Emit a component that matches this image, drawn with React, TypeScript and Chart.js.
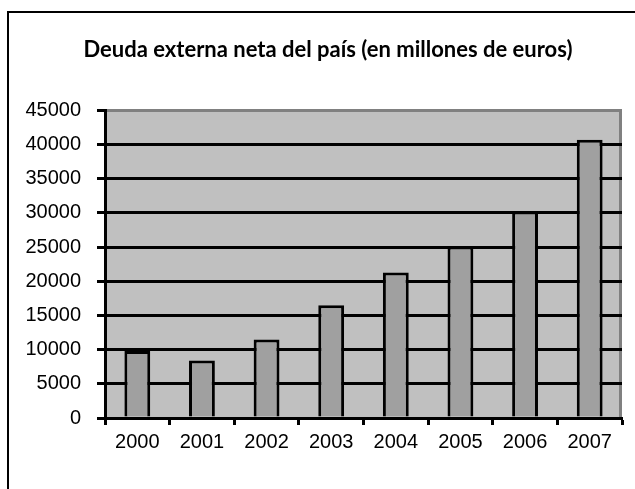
import React, { useEffect, useRef } from "react";
import { Chart, registerables } from "chart.js";

Chart.register(...registerables);

const TITLE = "Deuda externa neta del país (en millones de euros)";
const YEARS = ["2000", "2001", "2002", "2003", "2004", "2005", "2006", "2007"];
const DEBT = [9800, 8400, 11500, 16500, 21300, 25100, 30200, 40700];
const Y_MIN = 0;
const Y_MAX = 45000;
const Y_STEP = 5000;
const TITLE_FONT = "bold 22px Lato";

const plotBg = {
  id: "plotBg",
  beforeDraw(chart: any) {
    const { ctx, chartArea: a } = chart;
    ctx.save();
    ctx.fillStyle = "#c0c0c0";
    ctx.fillRect(a.left, a.top, a.right - a.left, a.bottom - a.top);
    ctx.strokeStyle = "#808080";
    ctx.lineWidth = 3;
    ctx.beginPath();
    ctx.moveTo(a.right - 1.5, a.top);
    ctx.lineTo(a.right - 1.5, a.bottom);
    ctx.stroke();
    ctx.restore();
  },
  afterDraw(chart: any) {
    const t = chart.titleBlock;
    if (!t) return;
    const { ctx } = chart;
    ctx.save();
    ctx.font = TITLE_FONT;
    ctx.fillStyle = "#000";
    ctx.textAlign = "center";
    ctx.textBaseline = "middle";
    ctx.fillText(TITLE, 328, t.top + 37 + 13.2);
    ctx.restore();
  },
};

export default function App() {
  const ref = useRef<HTMLCanvasElement>(null);
  useEffect(() => {
    const chart = new Chart(ref.current!, {
      type: "bar",
      data: {
        labels: YEARS,
        datasets: [
          {
            data: DEBT,
            backgroundColor: "#a0a0a0",
            borderColor: "#000000",
            borderWidth: 3,
            barPercentage: 0.4,
            categoryPercentage: 1,
          },
        ],
      },
      options: {
        animation: false,
        responsive: false,
        devicePixelRatio: 1,
        layout: { padding: { left: 0, right: 13, top: 0, bottom: 0 } },
        plugins: {
          legend: { display: false },
          tooltip: { enabled: false },
          title: {
            display: true,
            text: TITLE,
            color: "rgba(0,0,0,0)",
            font: { family: "Lato", weight: "bold", size: 22 },
            padding: { top: 37, bottom: 47 },
          },
        },
        scales: {
          x: {
            afterFit: (s: any) => {
              s.height = 71;
            },
            grid: {
              display: true,
              drawOnChartArea: false,
              offset: true,
              tickLength: 7,
              tickWidth: 3,
              color: "#000",
              tickColor: "#000",
            },
            border: { display: true, color: "#000", width: 3 },
            ticks: {
              color: "#000",
              font: { family: "Liberation Sans", size: 20 },
              padding: 5,
            },
          },
          y: {
            min: Y_MIN,
            max: Y_MAX,
            afterFit: (s: any) => {
              s.width = 105;
            },
            grid: {
              color: (c: any) => (c.tick && c.tick.value === Y_MAX ? "#808080" : "#000"),
              tickColor: "#000",
              lineWidth: 3,
              tickLength: 8,
            },
            border: { display: true, color: "#000", width: 3 },
            ticks: {
              stepSize: Y_STEP,
              color: "#000",
              font: { family: "Liberation Sans", size: 20 },
              padding: 16,
              callback: (v: any) => String(v),
            },
          },
        },
      },
      plugins: [plotBg],
    });
    return () => chart.destroy();
  }, []);
  return (
    <div style={{ position: "fixed", left: 0, top: 0, width: 635, height: 489, background: "#fff", overflow: "hidden" }}>
      <div
        style={{
          position: "absolute",
          left: 7,
          top: 11,
          width: 700,
          height: 600,
          border: "2px solid #000",
          boxSizing: "border-box",
        }}
      />
      <canvas ref={ref} width={635} height={489} style={{ position: "absolute", left: 0, top: 0 }} />
    </div>
  );
}
